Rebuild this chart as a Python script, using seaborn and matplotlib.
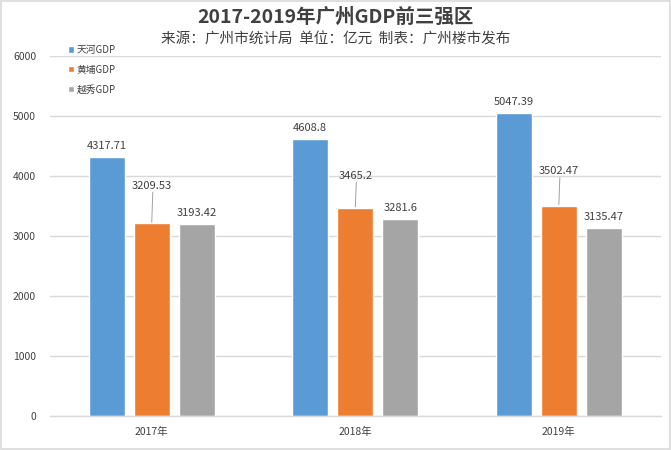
import pandas as pd
import seaborn as sns
import matplotlib.pyplot as plt
from matplotlib.patches import Rectangle

years = ['2017年', '2018年', '2019年']
districts = ['天河GDP', '黄埔GDP', '越秀GDP']
tianhe = [4317.71, 4608.8, 5047.39]
huangpu = [3209.53, 3465.2, 3502.47]
yuexiu = [3193.42, 3281.6, 3135.47]
label_text = [['4317.71', '4608.8', '5047.39'],
              ['3209.53', '3465.2', '3502.47'],
              ['3193.42', '3281.6', '3135.47']]
colors = ['#5B9BD5', '#ED7D31', '#A5A5A5']

sns.set_theme(style='white')
plt.rcParams['font.family'] = ['Noto Sans CJK SC', 'DejaVu Sans']

df = pd.DataFrame({
    'year': years * 3,
    'district': [d for d in districts for _ in years],
    'gdp': tianhe + huangpu + yuexiu,
})

fig = plt.figure(figsize=(6.71, 4.5), dpi=100)
ax = fig.add_axes([0.0745, 0.0756, 0.91, 0.80])
sns.barplot(data=df, x='year', y='gdp', hue='district', palette=colors,
            width=0.665, gap=0.2, ax=ax, errorbar=None, saturation=1)

ax.set_ylim(0, 6000)
ax.set_yticks(range(0, 6001, 1000))
ax.set_xlim(-0.5, 2.5)
ax.yaxis.grid(True, color='#D9D9D9', linewidth=1)
ax.set_axisbelow(True)
for s in ['top', 'right', 'left']:
    ax.spines[s].set_visible(False)
ax.spines['bottom'].set_color('#D9D9D9')
ax.spines['bottom'].set_linewidth(1)
ax.tick_params(axis='both', length=0, labelsize=7.5, colors='#404040', pad=8)
ax.tick_params(axis='y', pad=10)
ax.set_xlabel('')
ax.set_ylabel('')

# value labels
series = [tianhe, huangpu, yuexiu]
lifts = [[100, 100, 100], [540, 450, 490], [100, 100, 100]]
for i, cont in enumerate(ax.containers):
    for j, bar in enumerate(cont):
        x = bar.get_x() + bar.get_width() / 2
        top = series[i][j]
        ly = top + lifts[i][j]
        ax.text(x, ly, label_text[i][j], ha='center', va='bottom',
                fontsize=8, color='#404040')
        if i == 1:
            ax.plot([x + 0.005, x], [ly - 20, top + 20], color='#A0A0A0', lw=0.7)

# legend
leg = ax.legend(loc='upper left', bbox_to_anchor=(0.015, 1.055), frameon=False,
                fontsize=7, handlelength=0.6, handleheight=0.6,
                handletextpad=0.3, labelspacing=1.0)
for t in leg.get_texts():
    t.set_color('#404040')

fig.text(0.5, 0.962, '2017-2019年广州GDP前三强区', ha='center', va='center',
         fontsize=14, fontweight='bold', color='#404040')
fig.text(0.5, 0.912, '来源：广州市统计局  单位：亿元  制表：广州楼市发布', ha='center',
         va='center', fontsize=10.5, color='#404040')

fig.patches.append(Rectangle((0.002, 0.003), 0.996, 0.994, transform=fig.transFigure,
                             fill=False, edgecolor='#D9D9D9', linewidth=1.2))

fig.savefig('out.png', dpi=100)
